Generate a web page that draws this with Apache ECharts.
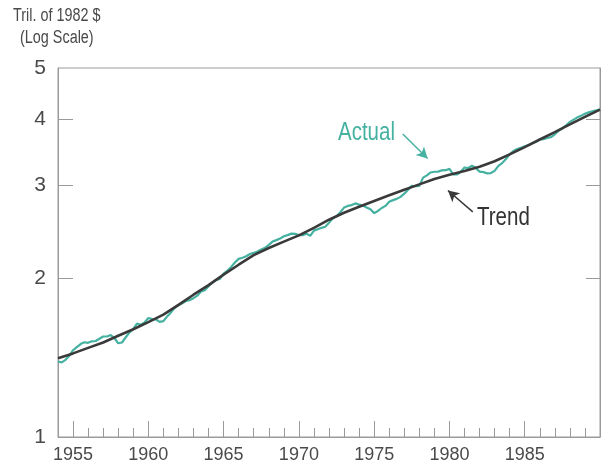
<!DOCTYPE html>
<html>
<head>
<meta charset="utf-8">
<script src="https://cdn.jsdelivr.net/npm/echarts@6/dist/echarts.min.js"></script>
<style>
html,body{margin:0;padding:0;background:#fff;}
#chart{width:604px;height:470px;}
</style>
</head>
<body>
<div id="chart"></div>
<script>
// Trend (annual points, trillions of 1982 $)
var trendYears = [1954,1955,1956,1957,1958,1959,1960,1961,1962,1963,1964,1965,1966,1967,1968,1969,1970,1971,1972,1973,1974,1975,1976,1977,1978,1979,1980,1981,1982,1983,1984,1985,1986,1987,1988,1989,1990];
var trendValues = [1.41,1.44,1.475,1.51,1.555,1.60,1.65,1.705,1.78,1.86,1.94,2.03,2.12,2.21,2.28,2.345,2.41,2.49,2.58,2.66,2.73,2.80,2.87,2.94,3.01,3.08,3.14,3.19,3.25,3.33,3.43,3.54,3.66,3.78,3.91,4.04,4.17];

// Actual (quarterly, 1954Q1 .. 1990Q1)
var actualStartYear = 1954;
var actualValues = [
  1.390,1.385,1.400,1.425,
  1.460,1.480,1.500,1.512,
  1.508,1.518,1.520,1.535,
  1.550,1.550,1.560,1.540,
  1.505,1.510,1.545,1.578,
  1.602,1.640,1.632,1.648,
  1.680,1.672,1.670,1.652,
  1.658,1.692,1.722,1.756,
  1.776,1.792,1.810,1.817,
  1.832,1.852,1.886,1.897,
  1.930,1.960,1.985,1.992,
  2.040,2.065,2.100,2.140,
  2.175,2.185,2.200,2.222,
  2.232,2.246,2.266,2.282,
  2.312,2.345,2.360,2.376,
  2.400,2.412,2.428,2.425,
  2.412,2.412,2.428,2.405,
  2.460,2.475,2.490,2.502,
  2.545,2.595,2.620,2.665,
  2.720,2.740,2.750,2.770,
  2.755,2.745,2.722,2.700,
  2.655,2.680,2.715,2.740,
  2.790,2.810,2.825,2.850,
  2.890,2.940,2.990,2.985,
  2.990,3.100,3.130,3.170,
  3.180,3.182,3.200,3.202,
  3.220,3.145,3.142,3.180,
  3.240,3.232,3.265,3.232,
  3.182,3.176,3.158,3.162,
  3.192,3.262,3.302,3.362,
  3.432,3.482,3.512,3.532,
  3.552,3.572,3.602,3.625,
  3.662,3.665,3.685,3.698,
  3.745,3.802,3.845,3.895,
  3.952,3.992,4.032,4.062,
  4.095,4.120,4.140,4.155,
  4.175
];

var yLabelValues = [1,2,3,4,5];
var yTickValues = [2,3,4];
var xMajorYears = [1955,1960,1965,1970,1975,1980,1985];
var xMinorYears = [1955,1956,1957,1958,1959,1960,1961,1962,1963,1964,1965,1966,1967,1968,1969,1970,1971,1972,1973,1974,1975,1976,1977,1978,1979,1980,1981,1982,1983,1984,1985,1986,1987,1988,1989];

var trendData = trendYears.map(function(y,i){return [y, trendValues[i]];});
var actualData = actualValues.map(function(v,i){return [actualStartYear + i/4, v];});

var axisColor = '#9a9a9a';
var textColor = '#4a4a4a';
var teal = '#45b1a1';
var dark = '#3a3a3a';
var fontFam = '"Liberation Sans Narrow","Liberation Sans",Arial,sans-serif';

var chart = echarts.init(document.getElementById('chart'), null, {renderer:'canvas'});
chart.setOption({
  animation:false,
  backgroundColor:'#fff',
  grid:{left:58,right:4,top:68,bottom:33,show:true,borderColor:axisColor,borderWidth:1,backgroundColor:'transparent'},
  xAxis:[
    {type:'value',min:1954,max:1990,position:'bottom',
     axisLine:{show:true,lineStyle:{color:axisColor,width:1}},
     axisTick:{show:true,inside:true,length:16,customValues:xMajorYears,lineStyle:{color:axisColor,width:1}},
     axisLabel:{show:true,customValues:xMajorYears,color:textColor,fontSize:18,fontFamily:fontFam,margin:9,
       formatter:function(v){return String(v);}},
     splitLine:{show:false}},
    {type:'value',min:1954,max:1990,position:'bottom',
     axisLine:{show:false},
     axisTick:{show:true,inside:true,length:9,customValues:xMinorYears,lineStyle:{color:axisColor,width:1}},
     axisLabel:{show:false},
     splitLine:{show:false}}
  ],
  yAxis:[
    {type:'log',logBase:10,min:1,max:5,position:'left',
     axisLine:{show:true,lineStyle:{color:axisColor,width:1}},
     axisTick:{show:true,inside:true,length:15,customValues:yTickValues,lineStyle:{color:axisColor,width:1}},
     axisLabel:{show:true,customValues:yLabelValues,color:textColor,fontSize:21,fontFamily:fontFam,margin:12,
       formatter:function(v){return String(v);}},
     splitLine:{show:false},minorTick:{show:false}},
    {type:'log',logBase:10,min:1,max:5,position:'right',
     axisLine:{show:true,lineStyle:{color:axisColor,width:1}},
     axisTick:{show:true,inside:true,length:14,customValues:yTickValues,lineStyle:{color:axisColor,width:1}},
     axisLabel:{show:false},
     splitLine:{show:false}}
  ],
  series:[
    {name:'Actual',type:'line',xAxisIndex:0,yAxisIndex:0,data:actualData,showSymbol:false,symbol:'none',
     lineStyle:{color:teal,width:2.2},z:2,
     markLine:{silent:true,symbol:['none','arrow'],symbolSize:[9,11],label:{show:false},
       lineStyle:{color:teal,width:1.5,type:'solid'},
       data:[[{coord:[1976.9,3.75]},{coord:[1978.55,3.37]}]]}},
    {name:'Trend',type:'line',xAxisIndex:0,yAxisIndex:0,data:trendData,showSymbol:false,symbol:'none',
     lineStyle:{color:dark,width:2.6},z:3,
     markLine:{silent:true,symbol:['none','arrow'],symbolSize:[9,11],label:{show:false},
       lineStyle:{color:dark,width:1.5,type:'solid'},
       data:[[{coord:[1981.55,2.67]},{coord:[1979.9,2.93]}]]}}
  ],
  graphic:[
    {type:'text',left:13,top:7,scaleX:0.8,style:{text:'Tril. of 1982 $',fill:textColor,font:'18px '+fontFam}},
    {type:'text',left:20,top:29,scaleX:0.8,style:{text:'(Log Scale)',fill:textColor,font:'18px '+fontFam}},
    {type:'text',left:338,top:121,scaleX:0.82,style:{text:'Actual',fill:teal,font:'25px '+fontFam}},
    {type:'text',left:477,top:206,scaleX:0.82,style:{text:'Trend',fill:'#333',font:'25px '+fontFam}}
  ]
});
</script>
</body>
</html>
